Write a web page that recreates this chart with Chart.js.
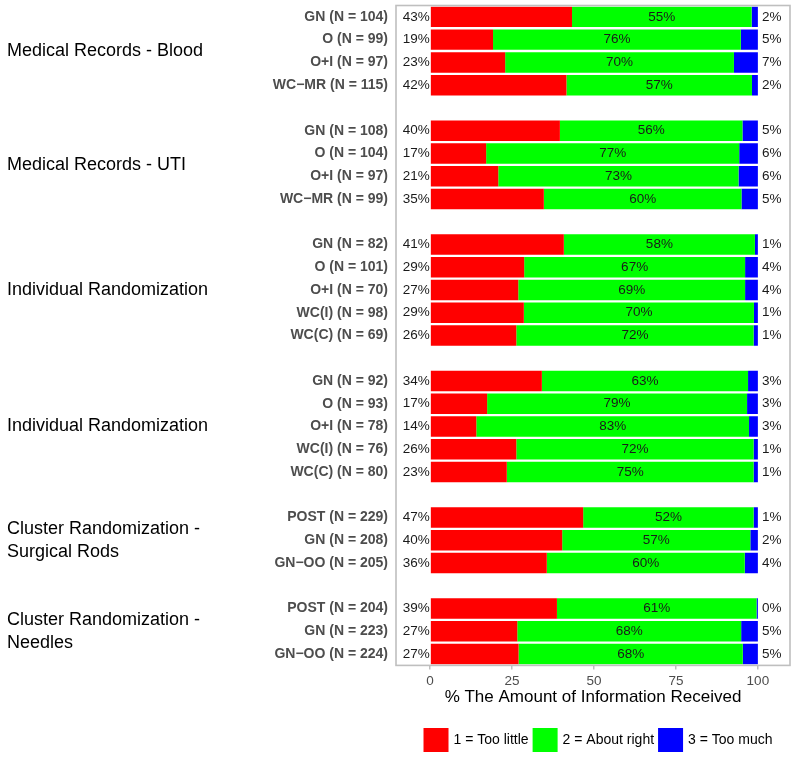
<!DOCTYPE html>
<html>
<head>
<meta charset="utf-8">
<title>Amount of Information Received</title>
<script src="https://cdn.jsdelivr.net/npm/chart.js@4.4.1/dist/chart.umd.min.js"></script>
<style>
  html, body { margin: 0; padding: 0; background: #fff; }
  #wrap { width: 800px; height: 760px; }
</style>
</head>
<body>
<div id="wrap"><canvas id="chart" width="800" height="760"></canvas></div>
<script>
// ── Data ─────────────────────────────────────────────
const groupNames = [
  'Medical Records - Blood',
  'Medical Records - UTI',
  'Individual Randomization',
  'Individual Randomization',
  'Cluster Randomization -\nSurgical Rods',
  'Cluster Randomization -\nNeedles'
];

const rowLabels = [
  ['GN (N = 104)', 'O (N = 99)', 'O+I (N = 97)', 'WC\u2212MR (N = 115)'],
  ['GN (N = 108)', 'O (N = 104)', 'O+I (N = 97)', 'WC\u2212MR (N = 99)'],
  ['GN (N = 82)', 'O (N = 101)', 'O+I (N = 70)', 'WC(I) (N = 98)', 'WC(C) (N = 69)'],
  ['GN (N = 92)', 'O (N = 93)', 'O+I (N = 78)', 'WC(I) (N = 76)', 'WC(C) (N = 80)'],
  ['POST (N = 229)', 'GN (N = 208)', 'GN\u2212OO (N = 205)'],
  ['POST (N = 204)', 'GN (N = 223)', 'GN\u2212OO (N = 224)']
];

// percent of respondents per answer (estimated from the bars)
const tooLittle = [
  [43.3, 19.2, 22.9, 41.6],
  [39.6, 17.1, 20.8, 34.7],
  [40.8, 28.7, 26.9, 28.6, 26.3],
  [34.1, 17.4, 14.1, 26.3, 23.4],
  [46.7, 40.3, 35.6],
  [38.7, 26.6, 27.0]
];
const aboutRight = [
  [54.8, 75.6, 69.8, 56.6],
  [55.7, 77.2, 73.3, 60.3],
  [58.3, 67.4, 69.2, 70.2, 72.4],
  [62.9, 79.3, 83.2, 72.4, 75.3],
  [52.0, 57.4, 60.4],
  [60.9, 68.3, 68.4]
];
const tooMuch = [
  [1.9, 5.2, 7.3, 1.8],
  [4.7, 5.7, 5.9, 5.0],
  [0.9, 3.9, 3.9, 1.2, 1.3],
  [3.0, 3.3, 2.7, 1.3, 1.3],
  [1.3, 2.3, 4.0],
  [0.4, 5.1, 4.6]
];

const seriesNames = ['1 = Too little', '2 = About right', '3 = Too much'];
const seriesColors = ['#ff0000', '#00ff00', '#0000ff'];
const xTicks = [0, 25, 50, 75, 100];

const FONT = '"Liberation Sans", Arial, Helvetica, sans-serif';

// ── Flatten groups into one category axis (blank row between groups) ──
const labels = [], little = [], right = [], much = [], groupSpans = [];
groupNames.forEach((name, g) => {
  if (g > 0) { labels.push(''); little.push(null); right.push(null); much.push(null); }
  const first = labels.length;
  rowLabels[g].forEach((lab, i) => {
    labels.push(lab);
    little.push(tooLittle[g][i]);
    right.push(aboutRight[g][i]);
    much.push(tooMuch[g][i]);
  });
  groupSpans.push({ name, first, last: labels.length - 1 });
});

// ── Plugins ──────────────────────────────────────────
const panelBorder = {
  id: 'panelBorder',
  afterDatasetsDraw(chart) {
    const { ctx, chartArea: a } = chart;
    ctx.save();
    ctx.strokeStyle = '#bfbfbf';
    ctx.lineWidth = 1.6;
    ctx.strokeRect(a.left, a.top, a.right - a.left, a.bottom - a.top);
    ctx.restore();
  }
};

const pctLabels = {
  id: 'pctLabels',
  afterDatasetsDraw(chart) {
    const { ctx } = chart;
    const m0 = chart.getDatasetMeta(0), m1 = chart.getDatasetMeta(1), m2 = chart.getDatasetMeta(2);
    ctx.save();
    ctx.font = '13.5px ' + FONT;
    ctx.fillStyle = '#1a1a1a';
    ctx.textBaseline = 'middle';
    labels.forEach((lab, i) => {
      if (little[i] == null) return;
      const r = m0.data[i], g = m1.data[i], b = m2.data[i];
      ctx.textAlign = 'right';
      ctx.fillText(Math.round(little[i]) + '%', r.base - 1, r.y);
      ctx.textAlign = 'center';
      ctx.fillText(Math.round(right[i]) + '%', (g.base + g.x) / 2, g.y);
      ctx.textAlign = 'left';
      ctx.fillText(Math.round(much[i]) + '%', b.x + 4, b.y);
    });
    ctx.restore();
  }
};

const groupLabels = {
  id: 'groupLabels',
  afterDraw(chart) {
    const { ctx } = chart;
    const y = chart.scales.y;
    ctx.save();
    ctx.font = '18px ' + FONT;
    ctx.fillStyle = '#000';
    ctx.textAlign = 'left';
    ctx.textBaseline = 'middle';
    groupSpans.forEach(s => {
      const mid = (y.getPixelForValue(s.first) + y.getPixelForValue(s.last)) / 2;
      const lines = s.name.split('\n');
      lines.forEach((ln, k) => {
        ctx.fillText(ln, 7, mid + (k - (lines.length - 1) / 2) * 23);
      });
    });
    ctx.restore();
  }
};

const bottomLegend = {
  id: 'bottomLegend',
  afterDraw(chart) {
    const { ctx, chartArea: a } = chart;
    const box = 25, gapIn = 5, gapOut = 4, cy = 740;
    ctx.save();
    ctx.font = '14px ' + FONT;
    const widths = seriesNames.map(t => ctx.measureText(t).width);
    const total = widths.reduce((s, w) => s + box + gapIn + w, 0) + gapOut * (seriesNames.length - 1);
    let x = (a.left + a.right) / 2 + 5 - total / 2;
    ctx.textBaseline = 'middle';
    ctx.textAlign = 'left';
    seriesNames.forEach((t, k) => {
      ctx.fillStyle = seriesColors[k];
      ctx.fillRect(x, cy - 12, box, 24);
      ctx.fillStyle = '#000';
      ctx.fillText(t, x + box + gapIn, cy);
      x += box + gapIn + widths[k] + gapOut;
    });
    ctx.restore();
  }
};

// ── Chart ────────────────────────────────────────────
new Chart(document.getElementById('chart'), {
  type: 'bar',
  data: {
    labels,
    datasets: [
      { label: seriesNames[0], data: little, backgroundColor: seriesColors[0] },
      { label: seriesNames[1], data: right, backgroundColor: seriesColors[1] },
      { label: seriesNames[2], data: much, backgroundColor: seriesColors[2] }
    ]
  },
  options: {
    indexAxis: 'y',
    responsive: false,
    animation: false,
    devicePixelRatio: 1,
    datasets: { bar: { barPercentage: 0.9, categoryPercentage: 1, borderWidth: 0 } },
    layout: { padding: { left: 0, right: 10, top: 5.5, bottom: 52 } },
    plugins: { legend: { display: false }, tooltip: { enabled: false } },
    scales: {
      x: {
        stacked: true,
        min: -10.4,
        max: 109.8,
        afterBuildTicks: s => { s.ticks = xTicks.map(v => ({ value: v })); },
        grid: { drawOnChartArea: false, drawTicks: true, tickLength: 4, color: '#bfbfbf', lineWidth: 1.5 },
        border: { display: false },
        ticks: { color: '#4d4d4d', font: { family: FONT, size: 13.5 }, padding: 4, maxRotation: 0 },
        title: {
          display: true,
          text: '% The Amount of Information Received',
          color: '#000',
          font: { family: FONT, size: 17 },
          padding: { top: -6, bottom: 0 }
        }
      },
      y: {
        stacked: true,
        grid: { display: false, drawTicks: false },
        border: { display: false },
        ticks: { color: '#4d4d4d', font: { family: FONT, size: 14, weight: 'bold' }, padding: 8, autoSkip: false },
        afterFit: s => { s.width = 396; s.paddingTop = 0; s.paddingBottom = 0; }
      }
    }
  },
  plugins: [panelBorder, pctLabels, groupLabels, bottomLegend]
});
</script>
</body>
</html>
